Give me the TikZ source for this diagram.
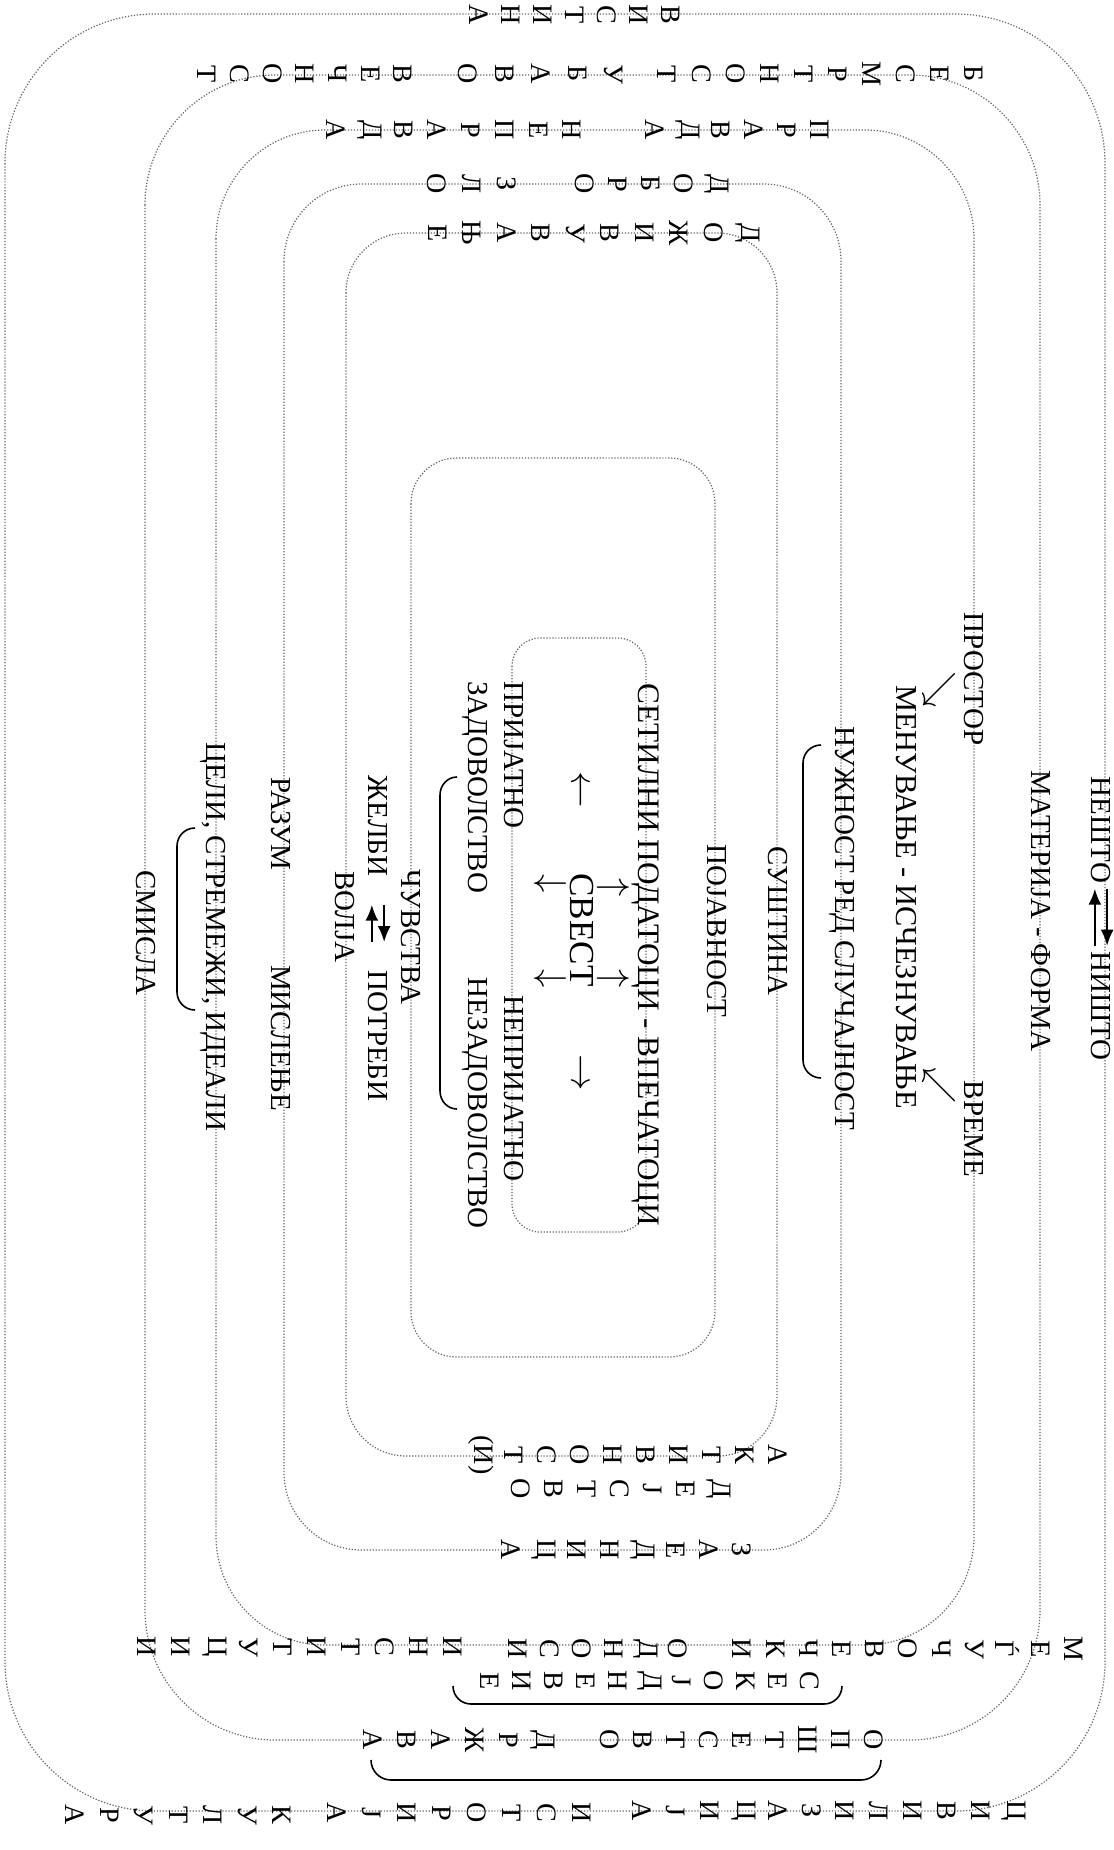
\documentclass[tikz,border=0pt]{standalone}
\usepackage{fontspec}
\setmainfont{Liberation Serif}
\usetikzlibrary{arrows.meta}
\tikzset{
  frame/.style={densely dotted,line width=.7pt,draw=black!60},
  word/.style={rotate=-90,inner sep=1pt,font=\fontsize{16.5}{19}\selectfont},
  letter/.style={rotate=-90,inner sep=0pt,font=\fontsize{16}{19}\selectfont},
  glyph/.style={rotate=-90,inner sep=0pt,font=\fontsize{21}{24}\selectfont},
  hook/.style={line width=.9pt},
  swap/.style={-{Latex[length=3.2mm,width=2.6mm]},line width=1.2pt},
}

\begin{document}
\begin{tikzpicture}[x=0.02cm,y=0.02cm]
  \useasboundingbox (0,0) rectangle (1113,-1850);

  % nested frames
  \draw[frame,rounded corners=85pt] (5,-14) rectangle (1105,-1811);
  \draw[frame,rounded corners=74pt] (145,-75) rectangle (1040,-1740);
  \draw[frame,rounded corners=62pt] (216,-130) rectangle (974,-1645);
  \draw[frame,rounded corners=44pt] (284,-184) rectangle (841,-1550);
  \draw[frame,rounded corners=34pt] (346,-233) rectangle (777,-1456);
  \draw[frame,rounded corners=26pt] (411,-458) rectangle (715,-1357);
  \draw[frame,rounded corners=16pt] (512,-638) rectangle (646,-1232);

  % words along the frames
  \node[word] (nesto) at (1101,-830) {НЕШТО};
  \node[word] (nishto) at (1101,-1006) {НИШТО};
  \draw[swap,shorten <=2pt,shorten >=2pt] ([xshift=-3.5pt]nishto.west) -- ([xshift=-3.5pt]nesto.east);
  \draw[swap,shorten <=2pt,shorten >=2pt] ([xshift=3.5pt]nesto.east) -- ([xshift=3.5pt]nishto.west);
  \node[word] (materija) at (1041,-911) {МАТЕРИЈА - ФОРМА};
  \node[word] (prostor) at (974,-679) {ПРОСТОР};
  \node[word] (vreme) at (974,-1129) {ВРЕМЕ};
  \node[glyph] (prostorarrow) at (939,-690) {$\searrow$};
  \node[glyph] (vremearrow) at (939,-1086) {$\swarrow$};
  \node[word,font=\fontsize{17.3}{19}\selectfont] (menuvanje) at (906,-897) {МЕНУВАЊЕ - ИСЧЕЗНУВАЊЕ};
  \node[word] (nuzhnost) at (842,-928) {НУЖНОСТ РЕД СЛУЧАЈНОСТ};
  \draw[hook] (821,-745) to[out=180,in=90] (803,-763) -- (803,-1060) to[out=-90,in=180] (821,-1078);
  \node[word] (sushtina) at (778,-921) {СУШТИНА};
  \node[word] (pojavnost) at (717,-931) {ПОЈАВНОСТ};
  \node[word,font=\fontsize{17.8}{19}\selectfont] (setilni) at (646,-955) {СЕТИЛНИ ПОДАТОЦИ - ВПЕЧАТОЦИ};

  \node[word,font=\fontsize{20}{24}\selectfont] (svest) at (582,-930) {СВЕСТ};
  \node[glyph] (svestleft) at (578,-790) {$\leftarrow$};
  \node[glyph] (svestright) at (578,-1073) {$\rightarrow$};
  \node[glyph] (svestup1) at (613,-888) {$\uparrow$};
  \node[glyph] (svestup2) at (613,-979) {$\uparrow$};
  \node[glyph] (svestdown1) at (550,-884) {$\downarrow$};
  \node[glyph] (svestdown2) at (550,-979) {$\downarrow$};

  \node[word] (prijatno) at (514,-755) {ПРИЈАТНО};
  \node[word] (neprijatno) at (514,-1088) {НЕПРИЈАТНО};
  \node[word] (zadovolstvo) at (475,-787) {ЗАДОВОЛСТВО};
  \node[word] (nezadovolstvo) at (475,-1103) {НЕЗАДОВОЛСТВО};
  \draw[hook] (457,-777) to[out=180,in=90] (440,-795) -- (440,-1091) to[out=-90,in=180] (457,-1109);
  \node[word] (chuvstva) at (411,-937) {ЧУВСТВА};
  \node[word] (zhelbi) at (378,-826) {ЖЕЛБИ};
  \node[word] (potrebi) at (378,-1036) {ПОТРЕБИ};
  \draw[swap,shorten <=15pt,shorten >=15pt] ([xshift=-3.5pt]potrebi.west) -- ([xshift=-3.5pt]zhelbi.east);
  \draw[swap,shorten <=15pt,shorten >=15pt] ([xshift=3.5pt]zhelbi.east) -- ([xshift=3.5pt]potrebi.west);
  \node[word] (volja) at (345,-917) {ВОЛЈА};
  \node[word] (razum) at (281,-824) {РАЗУМ};
  \node[word] (mislenje) at (281,-1038) {МИСЛЕЊЕ};
  \node[word] (celi) at (213,-937) {ЦЕЛИ, СТРЕМЕЖИ, ИДЕАЛИ};
  \draw[hook] (195,-828) to[out=180,in=90] (177,-846) -- (177,-992) to[out=-90,in=180] (195,-1010);
  \node[word] (smisla) at (146,-933) {СМИСЛА};

  % spelled-out columns, top side
  \foreach \c [count=\i from 0] in {В,И,С,Т,И,Н,А}
    \node[letter] (vistina\i) at (671-32*\i,-15) {\c};
  \foreach \c [count=\i from 0] in {Б,Е,С,М,Р,Т,Н,О,С,Т}
    \node[letter] (besmrtnost\i) at (974-34.1*\i,-74) {\c};
  \foreach \c [count=\i from 0] in {У,Б,А,В,О}
    \node[letter] (ubavo\i) at (614-36.5*\i,-74) {\c};
  \foreach \c [count=\i from 0] in {В,Е,Ч,Н,О,С,Т}
    \node[letter] (vechnost\i) at (403-32.7*\i,-74) {\c};
  \foreach \c [count=\i from 0] in {П,Р,А,В,Д,А}
    \node[letter] (pravda\i) at (820-33*\i,-130) {\c};
  \foreach \c [count=\i from 0] in {Н,Е,П,Р,А,В,Д,А}
    \node[letter] (nepravda\i) at (572-33.7*\i,-130) {\c};
  \foreach \c [count=\i from 0] in {Д,О,Б,Р,О}
    \node[letter] (dobro\i) at (717-33*\i,-184) {\c};
  \foreach \c [count=\i from 0] in {З,Л,О}
    \node[letter] (zlo\i) at (507-35*\i,-184) {\c};
  \foreach \c [count=\i from 0] in {Д,О,Ж,И,В,У,В,А,Њ,Е}
    \node[letter] (dozhivuvanje\i) at (748-34.5*\i,-233) {\c};

  % spelled-out columns, bottom side
  \foreach \c [count=\i from 0] in {А,К,Т,И,В,Н,О,С,Т,(И)}
    \node[letter] (aktivnost\i) at (778-33*\i,-1455) {\c};
  \foreach \c [count=\i from 0] in {Д,Е,Ј,С,Т,В,О}
    \node[letter] (dejstvo\i) at (719-33*\i,-1489) {\c};
  \foreach \c [count=\i from 0] in {З,А,Е,Д,Н,И,Ц,А}
    \node[letter] (zaednica\i) at (742-33*\i,-1550) {\c};
  \foreach \c [count=\i from 0] in {М,Е,Ѓ,У,Ч,О,В,Е,Ч,К,И}
    \node[letter] (megjuchovechki\i) at (1074-33.2*\i,-1649) {\c};
  \foreach \c [count=\i from 0] in {О,Д,Н,О,С,И}
    \node[letter] (odnosi\i) at (678-32*\i,-1649) {\c};
  \foreach \c [count=\i from 0] in {И,Н,С,Т,И,Т,У,Ц,И,И}
    \node[letter] (institucii\i) at (453-34*\i,-1647) {\c};
  \foreach \c [count=\i from 0] in {С,Е,К,О,Ј,Д,Н,Е,В,И,Е}
    \node[letter] (sekojdnevie\i) at (810-32*\i,-1681) {\c};
  \draw[hook] (453,-1686) to[out=-90,in=180] (471,-1704) -- (824,-1704) to[out=0,in=-90] (842,-1686);
  \foreach \c [count=\i from 0] in {О,П,Ш,Т,Е,С,Т,В,О}
    \node[letter] (opshtestvo\i) at (874-33*\i,-1740) {\c};
  \foreach \c [count=\i from 0] in {Д,Р,Ж,А,В,А}
    \node[letter] (drzhava\i) at (543-34*\i,-1740) {\c};
  \draw[hook] (371,-1760) to[out=-90,in=180] (391,-1780) -- (861,-1780) to[out=0,in=-90] (881,-1760);
  \foreach \c [count=\i from 0] in {Ц,И,В,И,Л,И,З,А,Ц,И,Ј,А}
    \node[letter] (civilizacija\i) at (1014-33.8*\i,-1811) {\c};
  \foreach \c [count=\i from 0] in {И,С,Т,О,Р,И,Ј,А}
    \node[letter] (istorija\i) at (582-35*\i,-1813) {\c};
  \foreach \c [count=\i from 0] in {К,У,Л,Т,У,Р,А}
    \node[letter] (kultura\i) at (282-34.5*\i,-1815) {\c};
\end{tikzpicture}
\end{document}
